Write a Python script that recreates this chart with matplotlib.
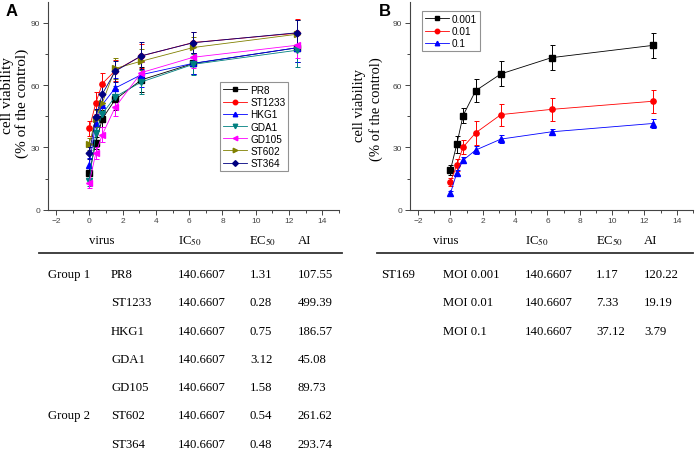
"""Cell viability curves with antiviral index tables (panels A and B)."""

import matplotlib
matplotlib.use("Agg")
import matplotlib.pyplot as plt
from matplotlib.lines import Line2D
from matplotlib.ticker import AutoMinorLocator, MultipleLocator

plt.rcParams["mathtext.fontset"] = "stix"

W, H = 697, 456

# concentrations on the x axis
conc = [0, 0.39, 0.78, 1.56, 3.125, 6.25, 12.5]

# panel A: strains
strains = ["PR8", "ST1233", "HKG1", "GDA1", "GD105", "ST602", "ST364"]
pr8 = [17.7, 32.2, 43.8, 53.1, 62.5, 70.4, 78.0]
st1233 = [39.1, 51.4, 60.7, 67.0, 74.0, 80.5, 85.0]
hkg1 = [21.7, 41.7, 50.6, 58.6, 65.0, 70.5, 78.0]
gda1 = [14.0, 36.9, 46.2, 54.4, 61.5, 70.0, 76.8]
gd105 = [13.0, 27.2, 36.1, 49.4, 66.0, 73.4, 79.2]
st602 = [31.7, 43.8, 51.4, 68.0, 71.5, 78.1, 84.5]
st364 = [27.2, 44.4, 55.7, 66.7, 74.1, 80.4, 85.2]
pr8_err = [2.5, 3.0, 4.0, 5.0, 6.0, 5.0, 7.0]
st1233_err = [3.5, 5.5, 5.0, 5.0, 6.0, 5.0, 7.0]
hkg1_err = [3.0, 4.0, 4.5, 5.0, 6.0, 5.0, 7.0]
gda1_err = [2.5, 3.5, 4.0, 5.0, 6.0, 5.0, 8.0]
gd105_err = [2.5, 3.0, 3.5, 4.5, 5.0, 5.0, 6.0]
st602_err = [3.0, 4.0, 4.5, 5.0, 6.0, 5.0, 7.0]
st364_err = [3.0, 4.0, 4.5, 5.0, 6.5, 5.0, 6.0]

# panel B: MOI
mois = ["0.001", "0.01", "0.1"]
moi_001 = [19.1, 31.4, 45.3, 57.3, 65.4, 73.2, 79.1]
moi_01 = [13.4, 21.4, 30.1, 37.0, 45.8, 48.3, 52.2]
moi_1 = [7.8, 17.7, 23.8, 28.7, 34.0, 37.5, 41.5]
moi_001_err = [2.6, 4.0, 3.7, 5.5, 6.0, 6.0, 6.0]
moi_01_err = [2.1, 2.8, 3.4, 5.7, 5.3, 5.6, 5.6]
moi_1_err = [1.0, 1.2, 1.5, 2.0, 2.0, 1.5, 2.0]

# tables
tab_a_group = ["Group 1", "", "", "", "", "Group 2", ""]
tab_a_virus = strains
tab_a_ic50 = ["140.6607"] * 7
tab_a_ec50 = ["1.31", "0.28", "0.75", "3.12", "1.58", "0.54", "0.48"]
tab_a_ai = ["107.55", "499.39", "186.57", "45.08", "89.73", "261.62", "293.74"]

tab_b_group = ["ST169", "", ""]
tab_b_virus = ["MOI 0.001", "MOI 0.01", "MOI 0.1"]
tab_b_ic50 = ["140.6607"] * 3
tab_b_ec50 = ["1.17", "7.33", "37.12"]
tab_b_ai = ["120.22", "19.19", "3.79"]

SERIF = "Liberation Serif"
SANS = "Liberation Sans"


def px_axes(fig, x0, x1, y0, y1):
    """Add axes given pixel edges (y measured from top)."""
    return fig.add_axes([x0 / W, 1 - y1 / H, (x1 - x0) / W, (y1 - y0) / H])


def style_axes(ax):
    ax.set_xlim(-2.5, 15)
    ax.set_ylim(0, 100)
    ax.xaxis.set_major_locator(MultipleLocator(2))
    ax.yaxis.set_major_locator(MultipleLocator(30))
    ax.xaxis.set_minor_locator(AutoMinorLocator(2))
    ax.yaxis.set_minor_locator(AutoMinorLocator(2))
    for s in ["top", "right"]:
        ax.spines[s].set_visible(False)
    for s in ["left", "bottom"]:
        ax.spines[s].set_color("#444444")
        ax.spines[s].set_linewidth(0.8)
    ax.tick_params(which="both", direction="out", colors="#444444",
                   labelsize=6, width=0.7)
    ax.tick_params(which="major", length=3.5, pad=2)
    ax.tick_params(which="minor", length=2)
    for lab in ax.get_xticklabels() + ax.get_yticklabels():
        lab.set_fontfamily(SANS)


def plot_series(ax, y, err, color, marker, ms=3.8):
    ax.errorbar(conc, y, yerr=err, color=color, marker=marker, markersize=ms,
                linewidth=0.6, elinewidth=0.7, capsize=1.8, capthick=0.7,
                ecolor=color, zorder=3)
    return Line2D([], [], color=color, marker=marker, markersize=ms * 0.85,
                  linewidth=0.6)


def add_legend(ax, handles, labels, anchor):
    leg = ax.legend(handles, labels, loc="upper left", bbox_to_anchor=anchor,
                    borderaxespad=0, fancybox=False, edgecolor="#777777",
                    prop={"family": SANS, "size": 7.2}, labelspacing=0.22,
                    handlelength=2.4, handletextpad=0.3, borderpad=0.3)
    leg.get_frame().set_linewidth(0.8)


def draw_table(fig, cols, header_x, rows, x_cols, top):
    tax = fig.add_axes([0, 0, 1, 1])
    tax.set_xlim(0, W)
    tax.set_ylim(H, 0)
    tax.axis("off")
    hdr_y, line_y, row0, step = top
    for text, x, ha in header_x:
        tax.text(x, hdr_y, text, ha=ha, va="center", fontsize=9.2, family=SERIF)
    tax.plot(cols, [line_y, line_y], color="#333333", linewidth=1.3)
    for i, row in enumerate(zip(*rows)):
        for text, x in zip(row, x_cols):
            tax.text(x, row0 + i * step, text, ha="left", va="center",
                     fontsize=9.2, family=SERIF)


fig = plt.figure(figsize=(W / 100, H / 100), dpi=100)

# panel A
ax_a = px_axes(fig, 47.7, 339, 3, 210.7)
style_axes(ax_a)
series_a = [
    (pr8, pr8_err, "black", "s"),
    (st1233, st1233_err, "red", "o"),
    (hkg1, hkg1_err, "blue", "^"),
    (gda1, gda1_err, "#008080", "v"),
    (gd105, gd105_err, "#ff00ff", "<"),
    (st602, st602_err, "#808000", ">"),
    (st364, st364_err, "#000080", "D"),
]
handles_a = [plot_series(ax_a, y, e, c, m, ms=3.4 if m == "D" else 3.8)
             for y, e, c, m in series_a]
add_legend(ax_a, handles_a, strains, (0.592, 0.615))

# panel B
ax_b = px_axes(fig, 410, 693, 3, 210.7)
style_axes(ax_b)
series_b = [
    (moi_001, moi_001_err, "black", "s"),
    (moi_01, moi_01_err, "red", "o"),
    (moi_1, moi_1_err, "blue", "^"),
]
handles_b = [plot_series(ax_b, y, e, c, m) for y, e, c, m in series_b]
add_legend(ax_b, handles_b, mois, (0.042, 0.957))

# y labels
fig.text(8 / W, 1 - 96 / H, "cell viability", rotation=90, ha="center",
         va="center", fontsize=11, family=SERIF)
fig.text(22 / W, 1 - 103 / H, "(% of the control)", rotation=90, ha="center",
         va="center", fontsize=11, family=SERIF)
fig.text(360 / W, 1 - 106 / H, "cell viability", rotation=90, ha="center",
         va="center", fontsize=10.5, family=SERIF)
fig.text(376 / W, 1 - 109 / H, "(% of the control)", rotation=90, ha="center",
         va="center", fontsize=10.5, family=SERIF)

# panel letters
fig.text(6 / W, 1 - 12 / H, "A", ha="left", va="center", fontsize=12,
         fontweight="bold", family=SANS)
fig.text(379 / W, 1 - 12 / H, "B", ha="left", va="center", fontsize=12,
         fontweight="bold", family=SANS)

# tables
draw_table(
    fig, [39, 342],
    [("virus", 102, "center"), (r"IC$_{\mathrm{50}}$", 178, "left"),
     (r"EC$_{\mathrm{50}}$", 249, "left"), ("AI", 298, "left")],
    [tab_a_group, tab_a_virus, tab_a_ic50, tab_a_ec50, tab_a_ai],
    [48, 111, 178, 250, 298],
    (241, 254, 275, 28.3),
)
draw_table(
    fig, [377, 693],
    [("virus", 446, "center"), (r"IC$_{\mathrm{50}}$", 525, "left"),
     (r"EC$_{\mathrm{50}}$", 596, "left"), ("AI", 644, "left")],
    [tab_b_group, tab_b_virus, tab_b_ic50, tab_b_ec50, tab_b_ai],
    [381, 443, 525, 596, 644],
    (241, 254, 275, 28.3),
)

fig.savefig("out.png", dpi=100)
